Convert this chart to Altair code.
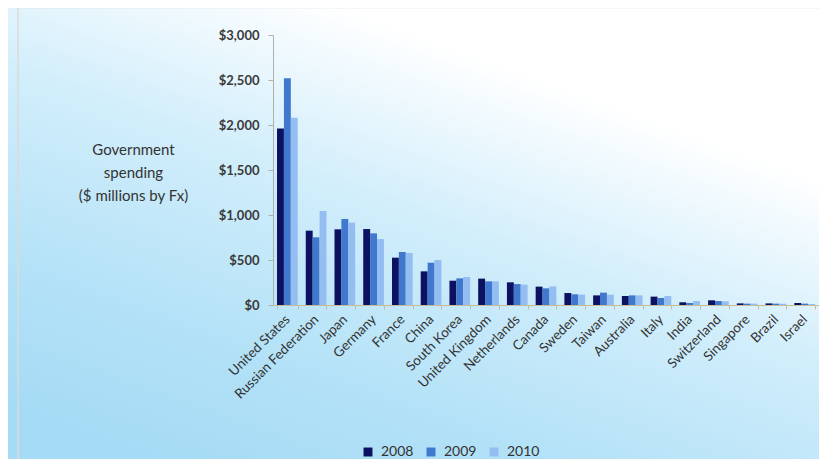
import altair as alt
import pandas as pd

countries = ["United States", "Russian Federation", "Japan", "Germany", "France", "China",
             "South Korea", "United Kingdom", "Netherlands", "Canada", "Sweden", "Taiwan",
             "Australia", "Italy", "India", "Switzerland", "Singapore", "Brazil", "Israel"]
years = ["2008", "2009", "2010"]
v2008 = [1960, 826, 841, 844, 526, 374, 270, 293, 252, 204, 133, 107, 100, 93, 30, 52, 18, 18, 22]
v2009 = [2519, 752, 956, 796, 589, 470, 296, 263, 233, 185, 119, 137, 107, 78, 22, 44, 15, 15, 15]
v2010 = [2081, 1044, 915, 733, 578, 500, 311, 263, 226, 207, 115, 115, 107, 100, 44, 41, 15, 15, 11]
colors = ["#0d1162", "#3f78cc", "#94bdf2"]

rows = []
for yr, vals in zip(years, [v2008, v2009, v2010]):
    for c, v in zip(countries, vals):
        rows.append({"country": c, "year": yr, "value": v})
df = pd.DataFrame(rows)

W, H = 546, 270
FONT = "Lato"

bg = alt.Chart(pd.DataFrame({"a": [0]})).mark_rect(
    color=alt.Gradient(
        gradient="linear",
        x1=0.85, y1=0.0, x2=0.2, y2=1.0,
        stops=[alt.GradientStop(color="#ffffff", offset=0.0),
               alt.GradientStop(color="#ffffff", offset=0.2),
               alt.GradientStop(color="#d2eefb", offset=0.48),
               alt.GradientStop(color="#b2e1f7", offset=0.8),
               alt.GradientStop(color="#a6dbf5", offset=1.0)]
    )
).encode(x=alt.value(-265), x2=alt.value(W), y=alt.value(-27), y2=alt.value(H + 154))

frame = alt.Chart(pd.DataFrame({"a": [0]})).mark_rect(
    fill=None, stroke="#dadada", strokeWidth=1.5
).encode(x=alt.value(-255), x2=alt.value(W + 120), y=alt.value(-27.5), y2=alt.value(H + 200))

bars = alt.Chart(df).mark_bar().encode(
    x=alt.X("country:N", sort=countries,
            scale=alt.Scale(paddingInner=0.28, paddingOuter=0.14),
            axis=alt.Axis(title=None, labelAngle=-45, labelAlign="right", labelBaseline="middle",
                          labelFontSize=13.5, labelColor="#333333", labelFont=FONT,
                          labelPadding=8, domainColor="#c8bc94", tickColor="#c8bc94",
                          tickSize=4, tickBand="extent", grid=False, zindex=1)),
    xOffset=alt.XOffset("year:N", sort=years),
    y=alt.Y("value:Q", scale=alt.Scale(domain=[0, 3000]),
            axis=alt.Axis(values=[0, 500, 1000, 1500, 2000, 2500, 3000], format="$,.0f",
                          title=["Government", "spending", "($ millions by Fx)"],
                          titleAngle=0, titleAlign="center", titleBaseline="middle",
                          titleX=-140, titleY=114, titleFont=FONT, titleFontSize=15,
                          titleFontWeight="normal", titleColor="#333333", titleLineHeight=23,
                          labelFont=FONT, labelFontSize=13, labelFontWeight="bold",
                          labelColor="#3a3a3a", labelPadding=9, tickSize=5,
                          tickColor="#b0b0b0", domainColor="#b0b0b0", grid=False, zindex=1)),
    color=alt.Color("year:N", sort=years,
                    scale=alt.Scale(domain=years, range=colors),
                    legend=alt.Legend(title=None, orient="none", direction="horizontal",
                                      legendX=88, legendY=410, symbolType="square",
                                      symbolSize=80, symbolStrokeWidth=0, labelFont=FONT,
                                      labelFontSize=14, labelColor="#333333",
                                      columnPadding=10, labelOffset=6, zindex=1)),
)

chart = alt.layer(bg, frame, bars).properties(
    width=W, height=H,
    autosize=alt.AutoSizeParams(type="none"),
    padding={"left": 265, "top": 27, "right": 0, "bottom": 154},
).configure_view(stroke=None).configure(background="#ffffff")

chart.save("out.html", embed_options={"renderer": "svg", "actions": False})
